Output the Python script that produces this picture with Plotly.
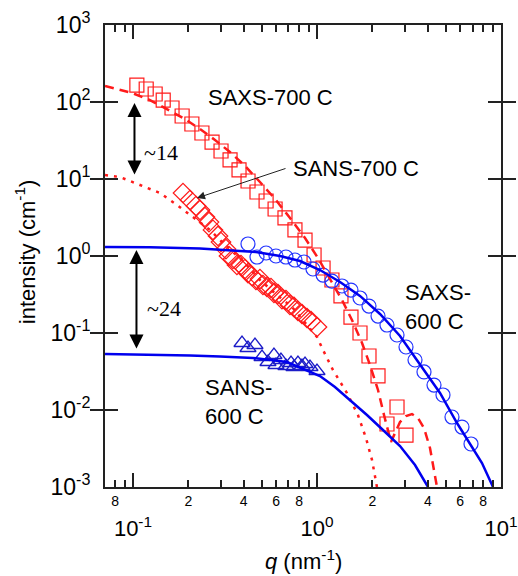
import plotly.graph_objects as go

# ---------------- data (q in nm^-1, intensity in cm^-1) ----------------
saxs700_q = [0.105, 0.118, 0.132, 0.146, 0.163, 0.185, 0.209, 0.237, 0.269, 0.301,
             0.337, 0.377, 0.422, 0.472, 0.529, 0.592, 0.670, 0.759, 0.861, 0.964,
             1.079, 1.206, 1.350, 1.530, 1.713, 1.917, 2.146, 2.401, 2.722, 3.046]
saxs700_I = [166, 147.5, 127, 106, 83.6, 65.8, 51.8, 39.6, 30.2, 23.1,
             17.7, 13.1, 9.42, 6.78, 5.18, 4.08, 3.12, 2.18, 1.61, 1.03,
             0.698, 0.488, 0.303, 0.161, 0.100, 0.0503, 0.0277, 0.00658, 0.01094, 0.00473]

saxs700_fit_q = [0.0705, 0.0988, 0.1237, 0.1531, 0.1918, 0.2313, 0.2791, 0.3365, 0.4061, 0.4898,
                 0.5918, 0.7135, 0.861, 1.0126, 1.177, 1.368, 1.549, 1.757, 1.941, 2.146,
                 2.313, 2.432, 2.524, 2.655, 2.826, 3.046, 3.283, 3.539, 3.816, 4.113,
                 4.325, 4.488]
saxs700_fit_I = [161, 131, 106, 81.1, 60.1, 44.6, 32.1, 22.4, 14.8, 9.14,
                 5.50, 3.12, 1.71, 0.942, 0.503, 0.268, 0.1476, 0.0741, 0.0384, 0.0182,
                 0.00861, 0.00518, 0.00384, 0.00502, 0.00698, 0.00836, 0.00887, 0.00787, 0.00583, 0.00321,
                 0.00166, 0.001]

sans700_q = [0.1870, 0.2041, 0.2200, 0.2312, 0.2461, 0.2588, 0.2721, 0.2897, 0.3008, 0.3201,
             0.3323, 0.3494, 0.3673, 0.3863, 0.4061, 0.4217, 0.4432, 0.4660, 0.4899, 0.5086,
             0.5348, 0.5623, 0.5837, 0.6138, 0.6452, 0.6783, 0.7130, 0.7499, 0.7882, 0.8288,
             0.8824, 0.9278, 1.0]
sans700_I = [6.58, 5.34, 4.46, 3.96, 3.21, 2.76, 2.18, 1.82, 1.52, 1.23,
             1.00, 0.914, 0.764, 0.764, 0.678, 0.601, 0.550, 0.488, 0.503, 0.420,
             0.396, 0.384, 0.331, 0.321, 0.276, 0.268, 0.231, 0.218, 0.193, 0.1765,
             0.1566, 0.1432, 0.1197]

sans700_fit_q = [0.0705, 0.0850, 0.1092, 0.1402, 0.1734, 0.2119, 0.2621, 0.3085, 0.4061, 0.4898,
                 0.6063, 0.7311, 0.861, 1.0, 1.079, 1.222, 1.455, 1.670, 1.846, 1.991, 2.118]
sans700_fit_I = [11.27, 10.6, 8.36, 6.58, 4.60, 3.21, 2.18, 1.476, 0.811, 0.488,
                 0.312, 0.218, 0.135, 0.0887, 0.0601, 0.0330, 0.01663, 0.00861, 0.00433, 0.00224, 0.001]

saxs600_q = [0.4217, 0.472, 0.529, 0.5986, 0.6783, 0.759, 0.850, 0.951, 1.079, 1.206,
             1.367, 1.530, 1.713, 1.917, 2.146, 2.401, 2.722, 3.046, 3.409, 3.815,
             4.324, 4.839, 5.415, 6.138, 6.871]
saxs600_I = [1.432, 0.970, 1.094, 1.0, 0.970, 0.887, 0.836, 0.678, 0.566, 0.473,
             0.408, 0.361, 0.285, 0.224, 0.166, 0.127, 0.0942, 0.0658, 0.0446, 0.0312,
             0.0211, 0.01567, 0.00811, 0.00601, 0.00362]

saxs600_fit_q = [0.0705, 0.1237, 0.2312, 0.3365, 0.4660, 0.6295, 0.8085, 1.038, 1.334, 1.713,
                 2.200, 2.826, 3.629, 4.661, 5.767, 6.784, 7.882, 9.049]
saxs600_fit_I = [1.309, 1.30, 1.252, 1.197, 1.127, 1.0, 0.861, 0.658, 0.459, 0.303,
                 0.1765, 0.0914, 0.0396, 0.01663, 0.00678, 0.00372, 0.00205, 0.001]

sans600_q = [0.3913, 0.4217, 0.4603, 0.5026, 0.5416, 0.5837, 0.5986, 0.6371, 0.6783, 0.7226,
             0.7499, 0.7882, 0.8288, 0.861, 0.9162, 1.0]
sans600_I = [0.0742, 0.0639, 0.0699, 0.0488, 0.0420, 0.0518, 0.0384, 0.0446, 0.0373, 0.0408,
             0.0362, 0.0408, 0.0373, 0.0396, 0.0362, 0.0321]

sans600_fit_q = [0.0705, 0.1237, 0.2041, 0.2970, 0.4489, 0.6871, 1.038, 1.252, 1.511, 1.869,
                 2.284, 2.826, 3.409, 4.012]
sans600_fit_I = [0.0534, 0.0526, 0.0510, 0.0495, 0.0474, 0.0420, 0.0276, 0.0199, 0.01349, 0.00861,
                 0.0055, 0.00341, 0.00193, 0.001]

x_digit_ticks = [0.08, 0.2, 0.4, 0.6, 0.8, 2, 4, 6, 8]
x_digit_text = ["8", "2", "4", "6", "8", "2", "4", "6", "8"]
x_minor_ticks = [0.09, 0.3, 0.5, 0.7, 0.9, 3, 5, 7, 9]
x_major_ticks = [0.1, 1, 10]
x_major_text = ["10<sup>-1</sup>", "10<sup>0</sup>", "10<sup>1</sup>"]
y_ticks = [1e-3, 1e-2, 1e-1, 1, 10, 100, 1000]
y_text = ["10<sup>-3</sup>", "10<sup>-2</sup>", "10<sup>-1</sup>", "10<sup>0</sup>",
          "10<sup>1</sup>", "10<sup>2</sup>", "10<sup>3</sup>"]

RED = "#ff1a1a"
BLUE = "#0000ee"
FONT = "Liberation Sans, Arial, sans-serif"
SERIF = "Liberation Serif, Times New Roman, serif"

fig = go.Figure()

# markers
fig.add_trace(go.Scatter(x=saxs700_q, y=saxs700_I, mode="markers",
                         marker=dict(symbol="square-open", size=14, color=RED, line=dict(width=1.2))))
fig.add_trace(go.Scatter(x=sans700_q, y=sans700_I, mode="markers",
                         marker=dict(symbol="diamond-open", size=15, color=RED, line=dict(width=1.2))))
fig.add_trace(go.Scatter(x=saxs600_q, y=saxs600_I, mode="markers",
                         marker=dict(symbol="circle-open", size=14, color="#2233ff", line=dict(width=1.2))))
fig.add_trace(go.Scatter(x=sans600_q, y=sans600_I, mode="markers",
                         marker=dict(symbol="triangle-up-open", size=14, color="#1c1cc8", line=dict(width=1.3))))

# fits
fig.add_trace(go.Scatter(x=saxs700_fit_q, y=saxs700_fit_I, mode="lines",
                         line=dict(color=RED, width=2.5, dash="9px,6px")))
fig.add_trace(go.Scatter(x=sans700_fit_q, y=sans700_fit_I, mode="lines",
                         line=dict(color=RED, width=2.5, dash="3px,6px")))
fig.add_trace(go.Scatter(x=saxs600_fit_q, y=saxs600_fit_I, mode="lines",
                         line=dict(color=BLUE, width=2.5)))
fig.add_trace(go.Scatter(x=sans600_fit_q, y=sans600_fit_I, mode="lines",
                         line=dict(color=BLUE, width=2.5)))

# invisible trace to activate xaxis2
fig.add_trace(go.Scatter(x=[0.1], y=[1], xaxis="x2", mode="markers",
                         marker=dict(opacity=0), hoverinfo="skip"))

xr = [-1.152, 1.0]
fig.update_layout(
    width=518, height=576,
    margin=dict(l=105, r=17, t=25, b=89, autoexpand=False),
    paper_bgcolor="white", plot_bgcolor="white",
    showlegend=False,
    font=dict(family=FONT, color="black"),
    xaxis=dict(type="log", range=xr, showgrid=False, zeroline=False, automargin=False,
               showline=True, linewidth=2, linecolor="#222", mirror="allticks",
               tickmode="array", tickvals=x_digit_ticks, ticktext=x_digit_text,
               ticks="inside", ticklen=7, tickwidth=1.5, tickcolor="#222",
               tickfont=dict(size=14),
               minor=dict(tickmode="array", tickvals=x_minor_ticks, ticks="inside",
                          ticklen=7, tickwidth=1.5, tickcolor="#222", showgrid=False)),
    xaxis2=dict(type="log", range=xr, overlaying="x", anchor="y", side="bottom",
                automargin=False,
                showgrid=False, zeroline=False, showline=False, mirror="allticks",
                tickmode="array", tickvals=x_major_ticks, ticktext=x_major_text,
                ticks="inside", ticklen=14, tickwidth=1.5, tickcolor="#222",
                tickfont=dict(size=22), ticklabelstandoff=26, ticklabeloverflow="allow"),
    yaxis=dict(type="log", range=[-3, 3], showgrid=False, zeroline=False, automargin=False,
               showline=True, linewidth=2, linecolor="#222", mirror="allticks",
               tickmode="array", tickvals=y_ticks, ticktext=y_text,
               ticks="inside", ticklen=13, tickwidth=1.5, tickcolor="#222",
               tickfont=dict(size=23), ticklabelstandoff=8),
)

ann = []
# axis titles
ann.append(dict(text="<i>q</i> (nm<sup>-1</sup>)", xref="paper", yref="paper", x=0.5, y=-0.157,
                xanchor="center", yanchor="middle", showarrow=False, font=dict(size=22)))
ann.append(dict(text="intensity (cm<sup>-1</sup>)", xref="paper", yref="paper", x=-0.2, y=0.51,
                xanchor="center", yanchor="middle", textangle=-90, showarrow=False, font=dict(size=22)))
# series labels
ann.append(dict(text="SAXS-700 C", xref="paper", yref="paper", x=0.4167, y=0.844,
                xanchor="center", yanchor="middle", showarrow=False, font=dict(size=22)))
ann.append(dict(text="SANS-700 C", xref="paper", yref="paper", x=0.634, y=0.690,
                xanchor="center", yanchor="middle", showarrow=False, font=dict(size=22)))
ann.append(dict(text="SAXS-<br>600 C", xref="paper", yref="paper", x=0.7525, y=0.39,
                xanchor="left", yanchor="middle", align="left", showarrow=False, font=dict(size=22)))
ann.append(dict(text="SANS-<br>600 C", xref="paper", yref="paper", x=0.2475, y=0.184,
                xanchor="left", yanchor="middle", align="left", showarrow=False, font=dict(size=22)))
ann.append(dict(text="~14", xref="paper", yref="paper", x=0.094, y=0.723,
                xanchor="left", yanchor="middle", showarrow=False,
                font=dict(size=22, family=SERIF)))
ann.append(dict(text="~24", xref="paper", yref="paper", x=0.1015, y=0.387,
                xanchor="left", yanchor="middle", showarrow=False,
                font=dict(size=22, family=SERIF)))
# arrows
ann.append(dict(text="", xref="x", yref="y", x=-0.9918, y=1.987, axref="x", ayref="y",
                ax=-0.9918, ay=1.039, showarrow=True, arrowhead=2, arrowside="end+start",
                arrowsize=1.4, arrowwidth=2, arrowcolor="black", standoff=0, startstandoff=0))
ann.append(dict(text="", xref="x", yref="y", x=-0.981, y=0.078, axref="x", ayref="y",
                ax=-0.981, ay=-1.221, showarrow=True, arrowhead=2, arrowside="end+start",
                arrowsize=1.4, arrowwidth=2, arrowcolor="black", standoff=0, startstandoff=0))
ann.append(dict(text="", xref="x", yref="y", x=-0.652, y=0.753, axref="x", ayref="y",
                ax=-0.163, ay=1.143, showarrow=True, arrowhead=2,
                arrowsize=1.6, arrowwidth=1, arrowcolor="#222", standoff=0))
fig.update_layout(annotations=ann)

fig.write_html("out.html",
               config={"displayModeBar": False},
               post_script="document.body.style.margin='0';document.body.style.overflow='hidden';")
